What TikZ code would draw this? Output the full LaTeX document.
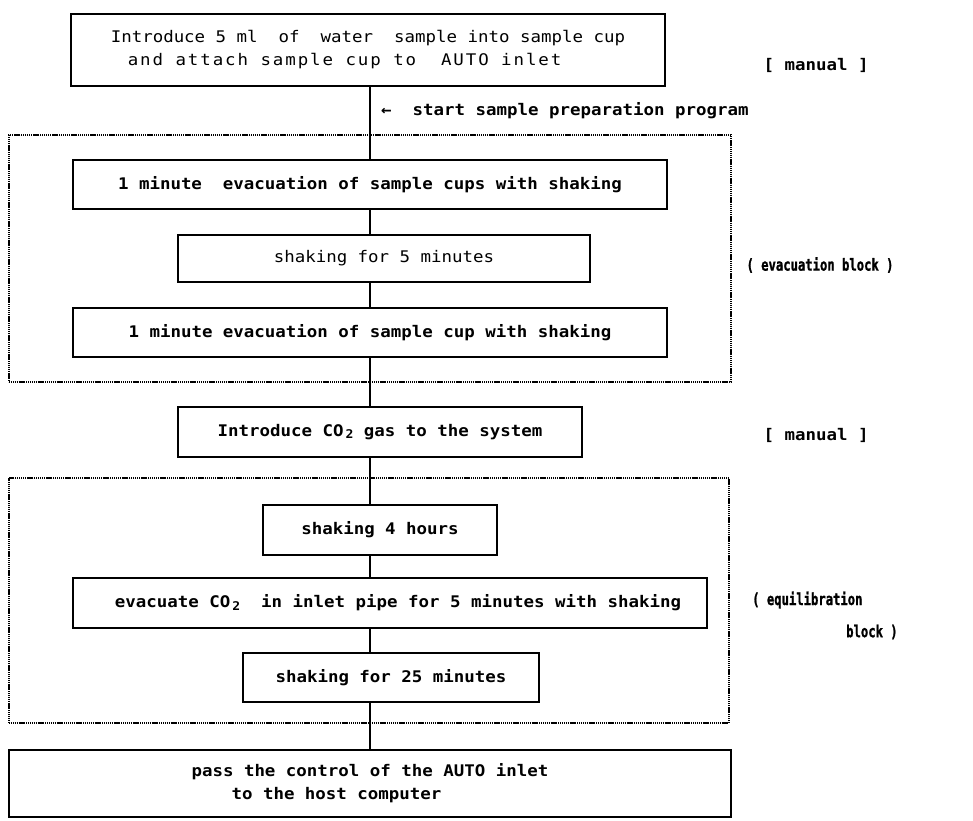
\documentclass[tikz,border=0pt]{standalone}
\usepackage{fontspec}
\newfontfamily\tw[FakeStretch=1.09]{DejaVu Sans Mono}
\newfontfamily\twn[FakeStretch=0.74,FakeBold=1.2]{DejaVu Sans Mono}
\newcommand{\cotwo}{CO\hspace{2pt}{\fontsize{12}{12}\selectfont\raisebox{-2.5pt}{2}}}
\begin{document}
\begin{tikzpicture}[x=1pt,y=-1pt,
  box/.style={draw, line width=1.1pt, fill=white, inner sep=0pt, font=\tw\fontsize{16}{23}\selectfont\bfseries},
  lbox/.style={box, font=\tw\fontsize{16}{23}\selectfont},
  blk/.style={draw, line width=1.3pt, dash pattern=on 1.2pt off 0.7pt, inner sep=0pt},
  conn/.style={line width=1.1pt},
  side/.style={inner sep=0pt, font=\twn\fontsize{16.5}{28}\selectfont\bfseries},
  sidew/.style={inner sep=0pt, font=\tw\fontsize{16}{28}\selectfont\bfseries}]
\useasboundingbox (0,0) rectangle (973,820);
\coordinate (X) at (370,0);
% blocks
\node[blk, minimum width=722pt, minimum height=247pt] (blk1) at (370,258.5) {};
\node[blk, minimum width=720pt, minimum height=245pt] (blk2) at (369,600.5) {};
% boxes
\node[lbox, minimum width=594pt, minimum height=72pt, align=left] (b1) at (368,50)
  {Introduce 5 ml\ \ of\ \ water\ \ sample into sample cup\\
   \hspace*{17pt}{\addfontfeature{LetterSpace=12}and attach sample cup to\ \ AUTO inlet}};
\node[box, minimum width=594pt, minimum height=49pt] (b2) at (370,184.5) {1 minute\ \ evacuation of sample cups with shaking};
\node[lbox, minimum width=412pt, minimum height=47pt] (s5) at (384,258.5) {shaking for 5 minutes};
\node[box, minimum width=594pt, minimum height=49pt] (b3) at (370,332.5) {1 minute evacuation of sample cup with shaking};
\node[box, minimum width=404pt, minimum height=50pt] (co2) at (380,432) {Introduce \cotwo{} gas to the system};
\node[box, minimum width=234pt, minimum height=50pt] (s4) at (380,530) {shaking 4 hours};
\node[box, minimum width=634pt, minimum height=50pt] (ev) at (390,603) {\hspace*{16pt}evacuate \cotwo{}\ \ in inlet pipe for 5 minutes with shaking};
\node[box, minimum width=296pt, minimum height=49pt] (s25) at (391,677.5) {shaking for 25 minutes};
\node[box, minimum width=722pt, minimum height=67pt, align=left] (last) at (370,783.5)
  {pass the control of the AUTO inlet\\
   \hspace*{40pt}to the host computer};
% connectors
\draw[conn] (b1.south -| X) -- (b2.north -| X);
\draw[conn] (b2.south -| X) -- (s5.north -| X);
\draw[conn] (s5.south -| X) -- (b3.north -| X);
\draw[conn] (b3.south -| X) -- (co2.north -| X);
\draw[conn] (co2.south -| X) -- (s4.north -| X);
\draw[conn] (s4.south -| X) -- (ev.north -| X);
\draw[conn] (ev.south -| X) -- (s25.north -| X);
\draw[conn] (s25.south -| X) -- (last.north -| X);
% side labels
\node[anchor=west, inner sep=0pt, font=\tw\fontsize{16}{23}\selectfont\bfseries] (start) at (381,111) {←\ \ start sample preparation program};
\node[sidew] (man1) at (816,65) {[ manual ]};
\node[side] (evl) at (820,265) {( evacuation block )};
\node[sidew] (man2) at (816,435) {[ manual ]};
\node[side, anchor=west] (eql1) at (752,600) {( equilibration};
\node[side, anchor=west] (eql2) at (846,632) {block )};
\end{tikzpicture}
\end{document}
